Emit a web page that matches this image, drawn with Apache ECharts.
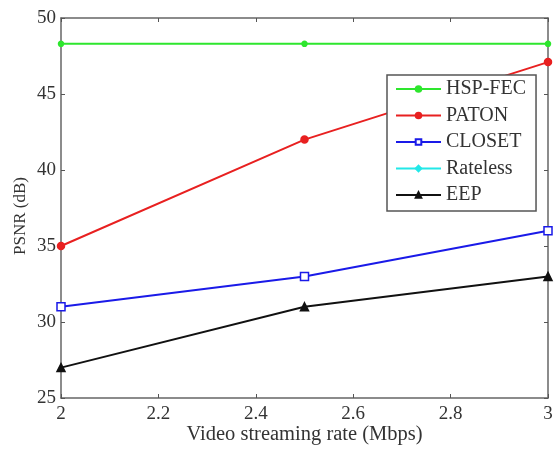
<!DOCTYPE html>
<html><head><meta charset="utf-8">
<script src="https://cdn.jsdelivr.net/npm/echarts@6/dist/echarts.min.js"></script>
<style>html,body{margin:0;padding:0;background:#fff}#c{width:554px;height:449px}</style>
</head><body><div id="c"></div>
<script>
const xValues = [2, 2.5, 3];
const hspFec = [48.3, 48.3, 48.3];
const paton = [35, 42, 47.1];
const closet = [31, 33, 36];
const rateless = [];
const eep = [27, 31, 33];
const xTicks = [2, 2.2, 2.4, 2.6, 2.8, 3];
const yTicks = [25, 30, 35, 40, 45, 50];

const font = 'Liberation Serif, Times New Roman, serif';
const pair = arr => arr.map((v, i) => [xValues[i], v]);
function mk(name, data, color, symbol, size, fill) {
  return {
    name, type: 'line', data: pair(data), xAxisIndex: 0, yAxisIndex: 0,
    symbol, symbolSize: size, showSymbol: true,
    lineStyle: { color, width: 2 },
    itemStyle: { color: fill ? color : '#fff', borderColor: color, borderWidth: 1.5 },
    color, animation: false
  };
}
const chart = echarts.init(document.getElementById('c'));
const axisLine = { show: true, lineStyle: { color: '#666', width: 1.5 } };
const tick = { inside: true, length: 4, lineStyle: { color: '#555' } };
chart.setOption({
  animation: false,
  grid: { left: 61, right: 6, top: 18, bottom: 51, containLabel: false, outerBoundsMode: 'none' },
  legend: {
    orient: 'vertical', left: 387, top: 75,
    itemWidth: 45, itemHeight: 7, itemGap: 6.5,
    padding: [4, 10, 6, 8],
    borderColor: '#555', borderWidth: 1.5, backgroundColor: '#fff',
    textStyle: { fontFamily: font, fontSize: 20, color: '#333', width: 85 },
    data: ['HSP-FEC', 'PATON', 'CLOSET', 'Rateless', 'EEP']
  },
  graphic: [{
    type: 'text', left: 12, top: 177, rotation: Math.PI / 2,
    style: { text: 'PSNR (dB)', font: '17px ' + font, fill: '#333' }
  }],
  xAxis: [{
    type: 'value', min: 2, max: 3, interval: 0.2, position: 'bottom',
    name: 'Video streaming rate (Mbps)', nameLocation: 'middle', nameGap: 26,
    nameMoveOverlap: false,
    nameTextStyle: { fontFamily: font, fontSize: 20.5, color: '#333' },
    axisLine, axisTick: tick,
    axisLabel: { fontFamily: font, fontSize: 19, color: '#333', margin: 7,
      formatter: v => xTicks.includes(Math.round(v * 10) / 10) ? String(Math.round(v * 10) / 10) : '' },
    splitLine: { show: false }
  }, {
    type: 'value', min: 2, max: 3, interval: 0.2, position: 'top',
    axisLine, axisTick: tick,
    axisLabel: { show: false }, splitLine: { show: false }
  }],
  yAxis: [{
    type: 'value', min: 25, max: 50, interval: 5, position: 'left',
    axisLine, axisTick: tick,
    axisLabel: { fontFamily: font, fontSize: 19, color: '#333', margin: 5,
      formatter: v => yTicks.includes(v) ? String(v) : '' },
    splitLine: { show: false }
  }, {
    type: 'value', min: 25, max: 50, interval: 5, position: 'right',
    axisLine, axisTick: tick,
    axisLabel: { show: false }, splitLine: { show: false }
  }],
  series: [
    mk('HSP-FEC', hspFec, '#2ee62e', 'circle', 5, true),
    mk('PATON', paton, '#e82020', 'circle', 7, true),
    mk('CLOSET', closet, '#1a1ae8', 'rect', 8, false),
    mk('Rateless', rateless, '#22e8e8', 'diamond', 6, true),
    mk('EEP', eep, '#111', 'triangle', 8, true)
  ]
});
</script></body></html>
